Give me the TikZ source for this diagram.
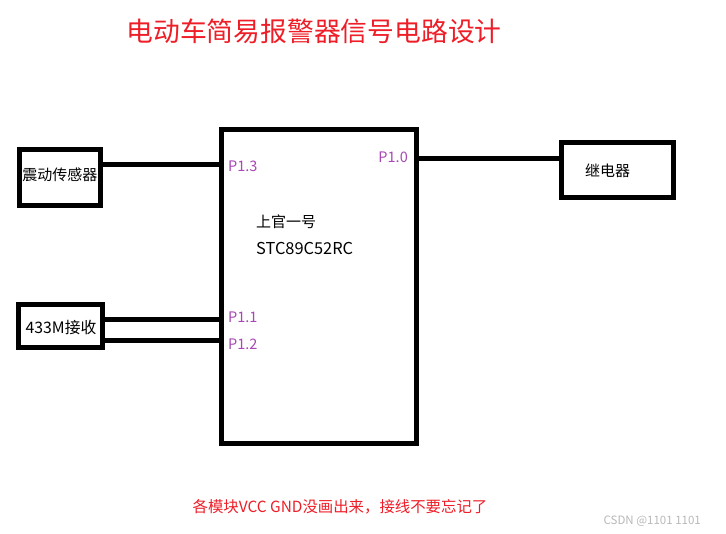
\documentclass[tikz,border=0pt]{standalone}
\usepackage{fontspec}
\setmainfont{Noto Sans CJK SC}
\definecolor{titlered}{RGB}{238,30,40}
\definecolor{pinpurple}{RGB}{168,72,180}
\definecolor{wmgray}{RGB}{185,185,185}
\tikzset{
  blockbox/.style={draw=black, line width=5pt, inner sep=0pt, fill=white},
  wire/.style={draw=black, line width=5pt},
  pinlabel/.style={text=pinpurple, font=\fontsize{14.5}{16}\selectfont, inner sep=0pt},
  boxtext/.style={text=black, font=\fontsize{15}{17}\selectfont, inner sep=0pt},
}
\begin{document}
\begin{tikzpicture}[x=1pt,y=-1pt]
\useasboundingbox[fill=white] (0,0) rectangle (726,534);

% title
\node[text=titlered, font=\fontsize{26.8}{30}\selectfont, inner sep=0pt] (title) at (314,31) {电动车简易报警器信号电路设计};

% blocks
\node[blockbox, minimum width=195pt, minimum height=314pt] (mcu) at (319,286.5) {};
\node[blockbox, minimum width=81pt, minimum height=56pt] (sensor) at (60,177.5) {};
\node[boxtext] (sensortxt) at (60,175) {震动传感器};
\node[blockbox, minimum width=84pt, minimum height=43pt] (rx) at (60.5,326) {};
\node[boxtext, font=\fontsize{15.8}{18}\selectfont] (rxtxt) at (61,328) {433M接收};
\node[blockbox, minimum width=112pt, minimum height=55pt] (relay) at (617.5,170) {};
\node[boxtext, anchor=west] (relaytxt) at (585,171) {继电器};

% MCU text
\node[boxtext, anchor=west] (mcuname) at (256,222) {上官一号};
\node[boxtext, anchor=west, font=\fontsize{16.4}{18}\selectfont] (mcupart) at (256,248) {STC89C52RC};

% pin labels
\node[pinlabel, anchor=west] (p13) at (228,166) {P1.3};
\node[pinlabel, anchor=east] (p10) at (408,157) {P1.0};
\node[pinlabel, anchor=west] (p11) at (228,317) {P1.1};
\node[pinlabel, anchor=west] (p12) at (228,344) {P1.2};

% connection points on MCU
\coordinate (m13) at (221.5,165);
\coordinate (m10) at (416.5,159);
\coordinate (m11) at (221.5,320);
\coordinate (m12) at (221.5,340.5);

% wires
\draw[wire] (sensor.east |- m13) -- (m13);
\draw[wire] (m10) -- (relay.west |- m10);
\draw[wire] (rx.east |- m11) -- (m11);
\draw[wire] (rx.east |- m12) -- (m12);

% note
\node[text=titlered, font=\fontsize{15.4}{17}\selectfont, inner sep=0pt] (note) at (340,507) {各模块VCC GND没画出来，接线不要忘记了};

% watermark
\node[text=wmgray, font=\fontsize{11.5}{13}\selectfont, inner sep=0pt, anchor=east] (wm) at (701,521) {CSDN @1101 1101};
\end{tikzpicture}
\end{document}
